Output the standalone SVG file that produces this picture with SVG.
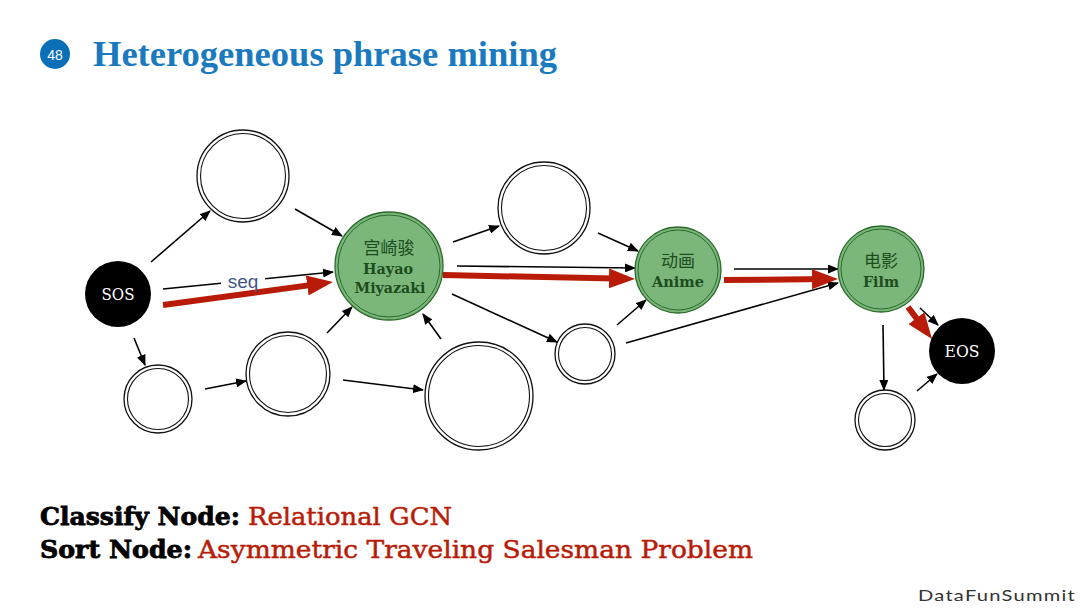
<svg xmlns="http://www.w3.org/2000/svg" width="1080" height="608" viewBox="0 0 1080 608">
<style>
.wo{fill:#fff;stroke:#111;stroke-width:1.3}
.wi{fill:none;stroke:#111;stroke-width:1.1}
.go{fill:#7bb67b;stroke:#2c6a2c;stroke-width:1.3}
.gi{fill:none;stroke:#2c6a2c;stroke-width:1}
.bk{fill:#000}
.e{stroke:#000;stroke-width:1.6;fill:none;marker-end:url(#ah)}
.en{stroke:#000;stroke-width:1.6;fill:none}
.r{stroke:#b81c08;stroke-width:6;fill:none;marker-end:url(#rh)}
.cn{font-family:"Noto Sans CJK SC",sans-serif;font-size:17px;fill:#1c4d1c;text-anchor:middle}
.lt{font-family:"DejaVu Serif","Liberation Serif",serif;font-weight:bold;font-size:15px;fill:#1c4d1c;text-anchor:middle}
.wt{font-family:"DejaVu Serif","Liberation Serif",serif;font-size:16px;fill:#fff;text-anchor:middle}
.bt{font-family:"DejaVu Serif","Liberation Serif",serif;font-weight:bold;font-size:25px;fill:#000;stroke:#000;stroke-width:0.8}
.rt{font-family:"DejaVu Serif","Liberation Serif",serif;font-size:25px;fill:#b81c08;stroke:#b81c08;stroke-width:0.5}
</style>
<defs>
<marker id="ah" markerUnits="userSpaceOnUse" markerWidth="11" markerHeight="9" refX="10" refY="4.5" orient="auto"><path d="M0,0 L11,4.5 L0,9 z" fill="#000"/></marker>
<marker id="rh" markerUnits="userSpaceOnUse" markerWidth="26" markerHeight="20" refX="18" refY="10" orient="auto"><path d="M0,0 L26,10 L0,20 z" fill="#b81c08"/></marker>
</defs>
<rect width="1080" height="608" fill="#fff"/>
<g id="title">
<circle cx="55" cy="54" r="15" fill="#0b6fb7"/>
<text x="55" y="59.5" font-family="Liberation Sans,Arial,sans-serif" font-size="14" fill="#fff" text-anchor="middle">48</text>
<text x="93" y="66" font-family="Liberation Serif,serif" font-weight="bold" font-size="36" fill="#1a7abf" textLength="464" lengthAdjust="spacingAndGlyphs">Heterogeneous phrase mining</text>
</g>
<g id="connectors">
<line class="e" x1="151" y1="262" x2="210" y2="211"/>
<line class="e" x1="295" y1="209" x2="342" y2="236"/>
<line class="en" x1="163" y1="289" x2="221" y2="283.3"/>
<line class="e" x1="265" y1="278.8" x2="333" y2="272"/>
<line class="r" x1="163" y1="305" x2="325.1" y2="283.1"/>
<line class="e" x1="134" y1="338" x2="145" y2="365"/>
<line class="e" x1="205" y1="389" x2="246" y2="381"/>
<line class="e" x1="327" y1="333" x2="352" y2="307"/>
<line class="e" x1="343" y1="380" x2="423" y2="390"/>
<line class="e" x1="441" y1="339" x2="423" y2="314"/>
<line class="e" x1="453" y1="242" x2="499" y2="226"/>
<line class="e" x1="598" y1="233" x2="638" y2="251"/>
<line class="e" x1="457" y1="266" x2="635" y2="268"/>
<line class="r" x1="443" y1="275" x2="627" y2="278.8"/>
<line class="e" x1="452" y1="294" x2="557" y2="342"/>
<line class="e" x1="617" y1="325" x2="646" y2="300"/>
<line class="e" x1="626" y1="343" x2="838" y2="283"/>
<line class="e" x1="734" y1="269" x2="838" y2="269"/>
<line class="r" x1="724" y1="280" x2="830" y2="279.1"/>
<line class="e" x1="883" y1="325" x2="884" y2="390"/>
<line class="e" x1="917" y1="391" x2="937" y2="374"/>
<line class="e" x1="920" y1="308" x2="938" y2="325"/>
<line class="r" x1="908" y1="307" x2="927.2" y2="332.6"/>
<text x="243" y="288" font-family="Liberation Sans,Arial,sans-serif" font-size="19" fill="#3e5687" text-anchor="middle">seq</text>
</g>
<g id="sos"><circle class="bk" cx="118" cy="294" r="33"/><text class="wt" x="118" y="300" textLength="33" lengthAdjust="spacingAndGlyphs">SOS</text></g>
<g id="n1"><circle class="wo" cx="243" cy="176" r="46"/><circle class="wi" cx="243" cy="176" r="42.5"/></g>
<g id="n2"><circle class="wo" cx="158" cy="399" r="34"/><circle class="wi" cx="158" cy="399" r="30.5"/></g>
<g id="n3"><circle class="wo" cx="288" cy="374" r="42"/><circle class="wi" cx="288" cy="374" r="38.5"/></g>
<g id="n4"><circle class="wo" cx="479" cy="396" r="54"/><circle class="wi" cx="479" cy="396" r="50.5"/></g>
<g id="n5"><circle class="wo" cx="544" cy="208" r="46"/><circle class="wi" cx="544" cy="208" r="42.5"/></g>
<g id="n6"><circle class="wo" cx="585" cy="354" r="30"/><circle class="wi" cx="585" cy="354" r="26.5"/></g>
<g id="n7"><circle class="wo" cx="885" cy="420" r="30"/><circle class="wi" cx="885" cy="420" r="26.5"/></g>
<g id="hayao"><circle class="go" cx="389" cy="266" r="54"/><circle class="gi" cx="389" cy="266" r="51"/>
<text class="cn" x="389" y="254">宫崎骏</text><text class="lt" x="388" y="274" textLength="50" lengthAdjust="spacingAndGlyphs">Hayao</text><text class="lt" x="390" y="293" textLength="71" lengthAdjust="spacingAndGlyphs">Miyazaki</text></g>
<g id="anime"><circle class="go" cx="678" cy="270" r="43"/><circle class="gi" cx="678" cy="270" r="40"/>
<text class="cn" x="678" y="267">动画</text><text class="lt" x="678" y="287" textLength="52" lengthAdjust="spacingAndGlyphs">Anime</text></g>
<g id="film"><circle class="go" cx="881" cy="269" r="43"/><circle class="gi" cx="881" cy="269" r="40"/>
<text class="cn" x="881" y="267">电影</text><text class="lt" x="881" y="287" textLength="36" lengthAdjust="spacingAndGlyphs">Film</text></g>
<g id="eos"><circle class="bk" cx="962" cy="351" r="33"/><text class="wt" x="962" y="357" textLength="35" lengthAdjust="spacingAndGlyphs">EOS</text></g>
<g id="caption">
<text class="bt" x="40" y="525" textLength="200" lengthAdjust="spacingAndGlyphs">Classify Node:</text>
<text class="rt" x="248" y="525" textLength="204" lengthAdjust="spacingAndGlyphs">Relational GCN</text>
<text class="bt" x="40" y="558" textLength="152" lengthAdjust="spacingAndGlyphs">Sort Node:</text>
<text class="rt" x="198" y="558" textLength="555" lengthAdjust="spacingAndGlyphs">Asymmetric Traveling Salesman Problem</text>
</g>
<text x="918" y="601" font-family="Lato,Noto Sans,sans-serif" font-size="16" letter-spacing="1" fill="#333" textLength="158" lengthAdjust="spacingAndGlyphs">DataFunSummit</text>
</svg>
